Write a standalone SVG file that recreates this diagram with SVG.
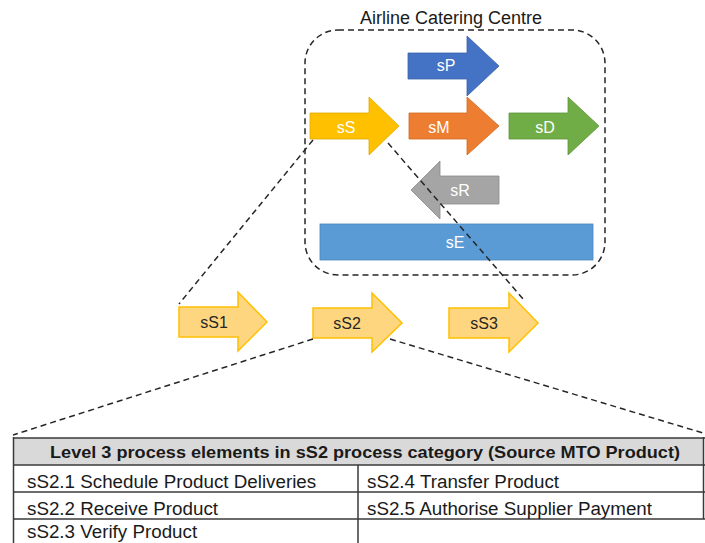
<svg xmlns="http://www.w3.org/2000/svg" width="705" height="543" viewBox="0 0 705 543">
  <style>
    .lbl { font-family: "Liberation Sans", Arial, sans-serif; font-size: 16px; text-anchor: middle; }
    .w { fill: #ffffff; }
    .d { fill: #262626; }
    .dash { fill: none; stroke: #262626; stroke-width: 1.5; stroke-dasharray: 6 4; }
    .cell { font-family: "Liberation Sans", Arial, sans-serif; font-size: 18.8px; fill: #1a1a1a; }
    .grid { stroke: #3a3a3a; stroke-width: 1.5; fill: none; }
  </style>

  <rect x="0" y="0" width="705" height="543" fill="#ffffff"/>

  <!-- boundary of the catering centre -->
  <g id="centre">
    <rect class="dash" x="305" y="30" width="300" height="245" rx="33" ry="33"/>
    <text x="451" y="24" font-family="Liberation Sans, Arial, sans-serif" font-size="18" fill="#1a1a1a" text-anchor="middle">Airline Catering Centre</text>
  </g>

  <!-- level 1 process categories -->
  <g id="sP">
    <polygon points="408,53 467,53 467,36 499,66 467,96 467,79 408,79" fill="#4472C4" stroke="#3a62a8" stroke-width="0.8"/>
    <text class="lbl w" x="446" y="71">sP</text>
  </g>
  <g id="sS">
    <polygon points="310,113 369,113 369,97 399,126 369,155 369,139 310,139" fill="#FFC000" stroke="#e0a800" stroke-width="0.8"/>
    <text class="lbl w" x="346" y="133">sS</text>
  </g>
  <g id="sM">
    <polygon points="409,113 467,113 467,97 499,126 467,155 467,139 409,139" fill="#ED7D31" stroke="#cf6a25" stroke-width="0.8"/>
    <text class="lbl w" x="439" y="133">sM</text>
  </g>
  <g id="sD">
    <polygon points="509,113 568,113 568,97 599,126 568,155 568,139 509,139" fill="#70AD47" stroke="#5e943a" stroke-width="0.8"/>
    <text class="lbl w" x="545" y="133">sD</text>
  </g>
  <g id="sR">
    <polygon points="499,176 440,176 440,161 411,190 440,219 440,204 499,204" fill="#A5A5A5" stroke="#8c8c8c" stroke-width="0.8"/>
    <text class="lbl w" x="460" y="196">sR</text>
  </g>
  <g id="sE">
    <rect x="320" y="224" width="273" height="36" fill="#5B9BD5" stroke="#4a86bd" stroke-width="0.8"/>
    <text class="lbl w" x="455" y="248">sE</text>
  </g>

  <!-- level 2 source categories -->
  <g id="sS1">
    <polygon points="179,307 238,307 238,292 267,322 238,351 238,337 179,337" fill="#FFD680" stroke="#FFC000" stroke-width="1.5"/>
    <text class="lbl d" x="214" y="328">sS1</text>
  </g>
  <g id="sS2">
    <polygon points="313,308 372,308 372,293 402,323 372,352 372,338 313,338" fill="#FFD680" stroke="#FFC000" stroke-width="1.5"/>
    <text class="lbl d" x="347" y="329">sS2</text>
  </g>
  <g id="sS3">
    <polygon points="449,308 509,308 509,293 538,323 509,352 509,338 449,338" fill="#FFD680" stroke="#FFC000" stroke-width="1.5"/>
    <text class="lbl d" x="484" y="329">sS3</text>
  </g>

  <!-- level 3 process element table -->
  <g id="table">
    <rect x="13.5" y="438" width="690" height="27" fill="#D9D9D9"/>
    <line class="grid" x1="13.5" y1="438" x2="705" y2="438" stroke-width="2.5"/>
    <line class="grid" x1="13.5" y1="465" x2="705" y2="465"/>
    <line class="grid" x1="13.5" y1="492" x2="705" y2="492"/>
    <line class="grid" x1="13.5" y1="519" x2="705" y2="519"/>
    <line class="grid" x1="13.5" y1="437" x2="13.5" y2="543"/>
    <line class="grid" x1="358" y1="465" x2="358" y2="543"/>
    <line class="grid" x1="703.5" y1="437" x2="703.5" y2="519"/>
    <text x="365" y="458" font-family="Liberation Sans, Arial, sans-serif" font-size="17" font-weight="bold" fill="#1a1a1a" text-anchor="middle" textLength="630" lengthAdjust="spacingAndGlyphs">Level 3 process elements in sS2 process category (Source MTO Product)</text>
    <text class="cell" x="27" y="488">sS2.1 Schedule Product Deliveries</text>
    <text class="cell" x="27" y="515">sS2.2 Receive Product</text>
    <text class="cell" x="27" y="538">sS2.3 Verify Product</text>
    <text class="cell" x="367" y="488">sS2.4 Transfer Product</text>
    <text class="cell" x="367" y="515">sS2.5 Authorise Supplier Payment</text>
  </g>

  <!-- zoom-in connectors -->
  <g id="connectors">
    <line class="dash" x1="313" y1="140" x2="179" y2="304"/>
    <line class="dash" x1="388" y1="143" x2="524" y2="300"/>
    <line class="dash" x1="313" y1="339" x2="13" y2="435"/>
    <line class="dash" x1="390" y1="339" x2="703" y2="433"/>
  </g>
</svg>
